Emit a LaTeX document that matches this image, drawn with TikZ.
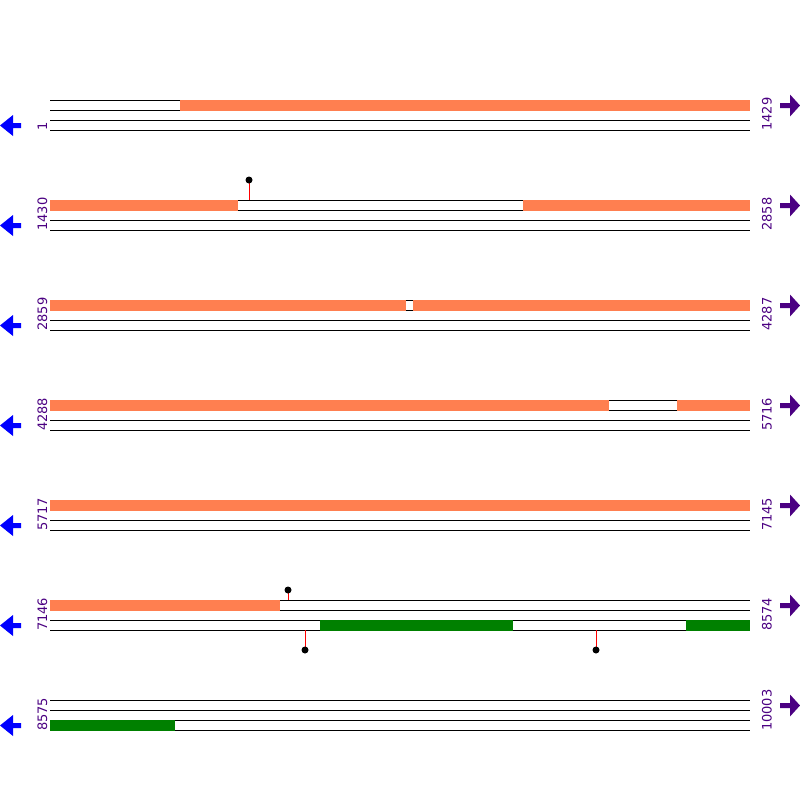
\documentclass[tikz,border=0pt]{standalone}
\usepackage{fontspec}
\setmainfont{DejaVu Sans}
\definecolor{featc}{HTML}{FF7F50}
\definecolor{cdsc}{HTML}{008000}
\definecolor{lblc}{HTML}{4B0082}
\definecolor{revc}{HTML}{0000FF}
\begin{document}
\begin{tikzpicture}[x=1pt,y=-1pt,
  strandline/.style={line width=1pt,black},
  featband/.style={fill=featc,draw=none},
  cdsband/.style={fill=cdsc,draw=none},
  stem/.style={line width=1pt,red},
  knob/.style={fill=black,draw=none},
  poslbl/.style={rotate=90,anchor=base west,inner sep=0pt,text=lblc,font=\fontsize{13}{15}\selectfont}]
\useasboundingbox (0,0) rectangle (800,800);
\fill[white] (0,0) rectangle (800,800);
% strand lines
\foreach \r in {0,...,6}{
  \foreach \d in {100,110,120,130}{
    \draw[strandline] (50,\r*100+\d) -- (750,\r*100+\d);
  }
  % reverse arrow (left)
  \fill[revc] (0,\r*100+125.5) -- (13,\r*100+115) -- (13,\r*100+123) -- (21,\r*100+123)
     -- (21,\r*100+128) -- (13,\r*100+128) -- (13,\r*100+136) -- cycle;
  % forward arrow (right)
  \fill[lblc] (800,\r*100+105.5) -- (790,\r*100+94.5) -- (790,\r*100+103) -- (780,\r*100+103)
     -- (780,\r*100+108) -- (790,\r*100+108) -- (790,\r*100+116.5) -- cycle;
}
% feature bands (top strand)
\fill[featband] (180,99.5) rectangle (750,110.5);
\fill[featband] (50,199.5) rectangle (238,210.5);
\fill[featband] (523,199.5) rectangle (750,210.5);
\fill[featband] (50,299.5) rectangle (406,310.5);
\fill[featband] (413,299.5) rectangle (750,310.5);
\fill[featband] (50,399.5) rectangle (609,410.5);
\fill[featband] (677,399.5) rectangle (750,410.5);
\fill[featband] (50,499.5) rectangle (750,510.5);
\fill[featband] (50,599.5) rectangle (280,610.5);
% cds bands (bottom strand)
\fill[cdsband] (320,619.5) rectangle (513,630.5);
\fill[cdsband] (686,619.5) rectangle (750,630.5);
\fill[cdsband] (50,719.5) rectangle (175,730.5);
% lollipops
\coordinate (l1a) at (249,200); \coordinate (l1b) at (249,180);
\coordinate (l2a) at (288,600); \coordinate (l2b) at (288,590);
\coordinate (l3a) at (305,630); \coordinate (l3b) at (305,650);
\coordinate (l4a) at (596,630); \coordinate (l4b) at (596,650);
\foreach \n in {1,2,3,4}{
  \draw[stem] (l\n a) -- (l\n b);
  \fill[knob] (l\n b) circle (3.5);
}
% position labels
\node[poslbl] (s1) at (47,131) {1};
\node[poslbl] (e1) at (771.5,131) {1429};
\node[poslbl] (s2) at (47,231) {1430};
\node[poslbl] (e2) at (771.5,231) {2858};
\node[poslbl] (s3) at (47,331) {2859};
\node[poslbl] (e3) at (771.5,331) {4287};
\node[poslbl] (s4) at (47,431) {4288};
\node[poslbl] (e4) at (771.5,431) {5716};
\node[poslbl] (s5) at (47,531) {5717};
\node[poslbl] (e5) at (771.5,531) {7145};
\node[poslbl] (s6) at (47,631) {7146};
\node[poslbl] (e6) at (771.5,631) {8574};
\node[poslbl] (s7) at (47,731) {8575};
\node[poslbl] (e7) at (771.5,731) {10003};
\end{tikzpicture}
\end{document}
